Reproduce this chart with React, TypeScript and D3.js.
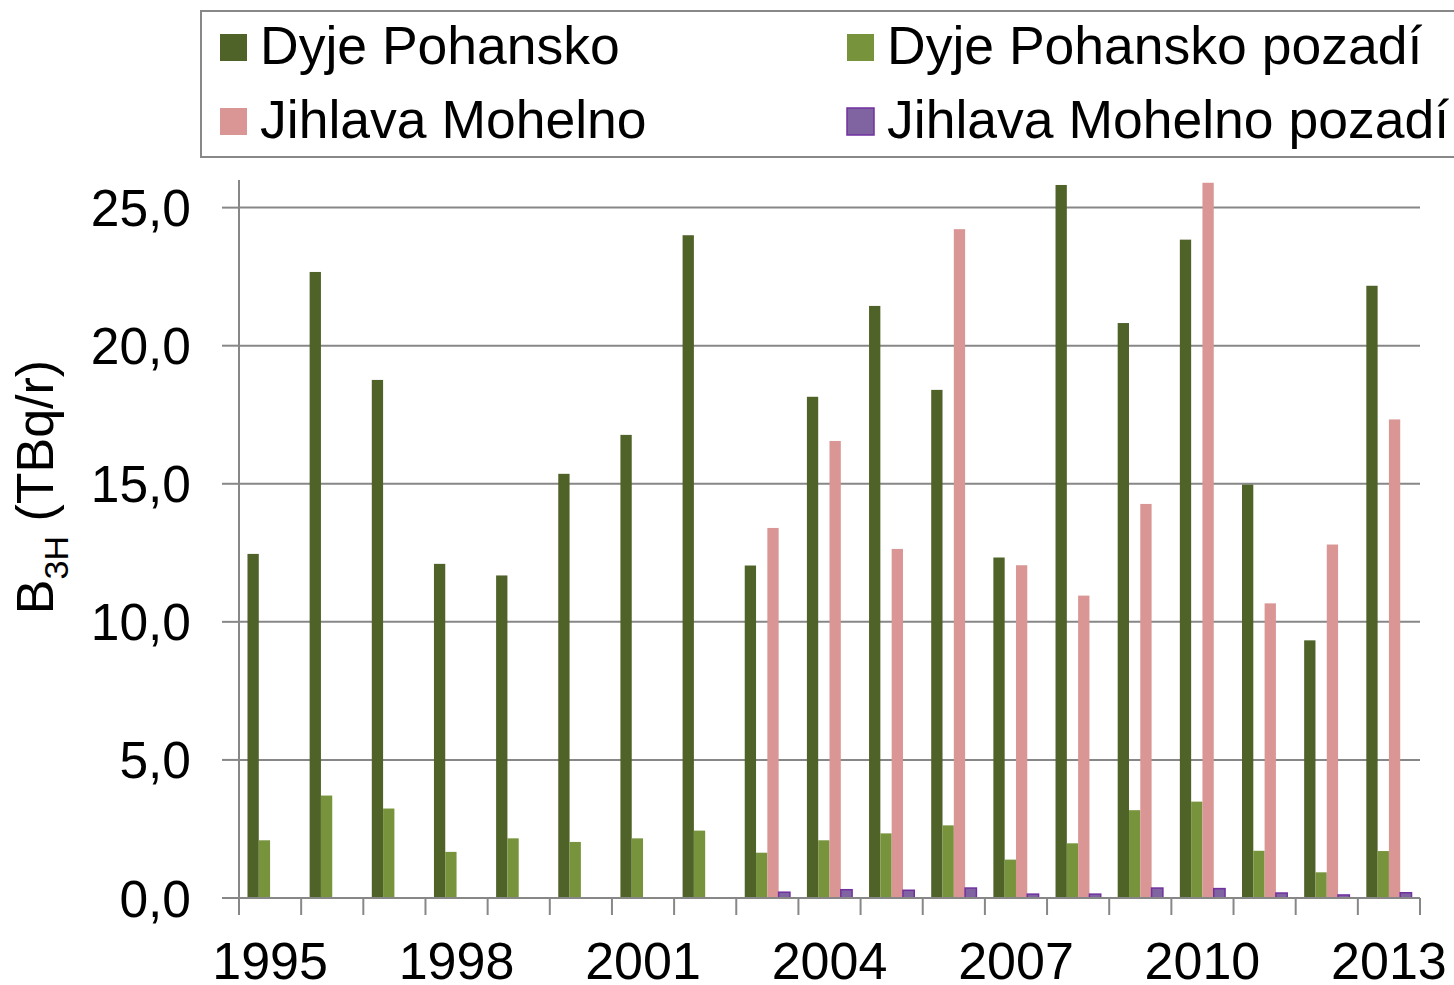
import React from "react";
import * as d3 from "d3";

// roky na ose x
const years = [
  "1995", "1996", "1997", "1998", "1999", "2000", "2001", "2002", "2003", "2004",
  "2005", "2006", "2007", "2008", "2009", "2010", "2011", "2012", "2013",
];
const yearLabels = ["1995", "1998", "2001", "2004", "2007", "2010", "2013"];
const yTicks = [0, 5, 10, 15, 20, 25];

const seriesNames = [
  "Dyje Pohansko",
  "Dyje Pohansko pozadí",
  "Jihlava Mohelno",
  "Jihlava Mohelno pozadí",
];

const dyjePohansko = [
  12.46, 22.67, 18.76, 12.1, 11.68, 15.36, 16.77, 24.0, 12.04, 18.15,
  21.44, 18.4, 12.33, 25.82, 20.82, 23.84, 14.97, 9.33, 22.17,
];
const dyjePozadi = [
  2.09, 3.71, 3.24, 1.67, 2.16, 2.03, 2.16, 2.44, 1.64, 2.09,
  2.34, 2.63, 1.39, 1.98, 3.18, 3.49, 1.71, 0.93, 1.7,
];
const jihlavaMohelno = [
  null, null, null, null, null, null, null, null, 13.4, 16.55,
  12.64, 24.22, 12.05, 10.95, 14.27, 25.9, 10.67, 12.8, 17.33,
];
const jihlavaPozadi = [
  null, null, null, null, null, null, null, null, 0.21, 0.3,
  0.28, 0.36, 0.14, 0.14, 0.36, 0.34, 0.18, 0.11, 0.19,
];

const seriesValues = [dyjePohansko, dyjePozadi, jihlavaMohelno, jihlavaPozadi];
const fills = ["#4F6228", "#77933C", "#D99694", "#8064A2"];
const strokes = ["none", "none", "none", "#7030A0"];

const W = 1454;
const H = 985;
const left = 239;
const right = 1420;
const top = 180;
const bottom = 898;
const font = "'Liberation Sans', Arial, sans-serif";
const gridColor = "#878787";

export default function App() {
  const x = d3.scaleBand().domain(years).range([left, right]);
  const xInner = d3
    .scaleBand()
    .domain(seriesNames)
    .range([0, x.bandwidth()])
    .paddingOuter(0.75);
  const y = d3.scaleLinear().domain([0, 26]).range([bottom, top]);
  const fmt = (v: number) => d3.format(".1f")(v).replace(".", ",");

  const bars: JSX.Element[] = [];
  seriesValues.forEach((vals, si) => {
    vals.forEach((v, i) => {
      if (v == null) return;
      const bx = (x(years[i]) as number) + (xInner(seriesNames[si]) as number);
      bars.push(
        <rect
          key={`${si}-${i}`}
          x={bx}
          y={y(v)}
          width={xInner.bandwidth()}
          height={y(0) - y(v)}
          fill={fills[si]}
          stroke={strokes[si]}
          strokeWidth={strokes[si] === "none" ? 0 : 1.5}
        />
      );
    });
  });

  const boundaries = years.map((yr) => x(yr) as number).concat([right]);

  const legendItems = [
    { name: seriesNames[0], col: 0, row: 0, si: 0 },
    { name: seriesNames[1], col: 1, row: 0, si: 1 },
    { name: seriesNames[2], col: 0, row: 1, si: 2 },
    { name: seriesNames[3], col: 1, row: 1, si: 3 },
  ];
  const colX = [220, 847];
  const rowY = [34, 108];

  return (
    <svg
      width={W}
      height={H}
      style={{ position: "absolute", left: 0, top: 0, background: "#fff" }}
      fontFamily={font}
    >
      {/* mřížka */}
      {yTicks.filter((t) => t > 0).map((t) => (
        <line key={t} x1={left} x2={right} y1={y(t)} y2={y(t)} stroke={gridColor} strokeWidth={2} />
      ))}
      {/* osa y */}
      <line x1={left} x2={left} y1={top} y2={bottom} stroke={gridColor} strokeWidth={2} />
      {yTicks.map((t) => (
        <g key={t}>
          <line x1={left - 17} x2={left} y1={y(t)} y2={y(t)} stroke={gridColor} strokeWidth={2} />
          <text x={191} y={y(t)} dy="0.36em" textAnchor="end" fontSize={51.5} fill="#000">
            {fmt(t)}
          </text>
        </g>
      ))}
      {bars}
      {/* osa x */}
      <line x1={left - 17} x2={right} y1={bottom} y2={bottom} stroke={gridColor} strokeWidth={2} />
      {boundaries.map((bx, i) => (
        <line key={i} x1={bx} x2={bx} y1={bottom} y2={bottom + 17} stroke={gridColor} strokeWidth={2} />
      ))}
      {yearLabels.map((yr) => (
        <text
          key={yr}
          x={(x(yr) as number) + x.bandwidth() / 2}
          y={979}
          textAnchor="middle"
          fontSize={52}
          fill="#000"
        >
          {yr}
        </text>
      ))}
      {/* popisek osy y */}
      <text transform="translate(53,487) rotate(-90)" textAnchor="middle" fontSize={52} fill="#000">
        B<tspan fontSize={34} dy={15}>3H</tspan>
        <tspan dy={-15}> (TBq/r)</tspan>
      </text>
      {/* legenda */}
      <rect x={201} y={11} width={1260} height={146} fill="#fff" stroke="#888" strokeWidth={2} />
      {legendItems.map((it) => (
        <g key={it.name}>
          <rect
            x={colX[it.col]}
            y={rowY[it.row]}
            width={27}
            height={27}
            fill={fills[it.si]}
            stroke={strokes[it.si]}
            strokeWidth={strokes[it.si] === "none" ? 0 : 1.5}
          />
          <text x={colX[it.col] + 40} y={rowY[it.row] + 30} fontSize={53.5} fill="#000">
            {it.name}
          </text>
        </g>
      ))}
    </svg>
  );
}
